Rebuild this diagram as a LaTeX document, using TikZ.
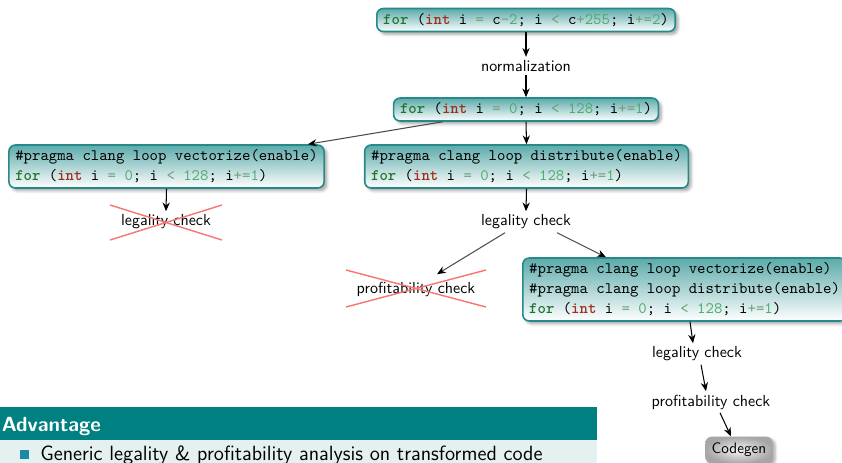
\documentclass[tikz,border=0pt]{standalone}
\usetikzlibrary{arrows.meta,calc,shadows,shadows.blur}

\definecolor{boxedge}{RGB}{38,138,138}
\definecolor{boxtop}{RGB}{92,170,170}
\definecolor{kwgreen}{RGB}{30,115,45}
\definecolor{typered}{RGB}{160,45,25}
\definecolor{numgreen}{RGB}{80,170,110}
\definecolor{opgreen}{RGB}{110,160,120}
\definecolor{crossred}{RGB}{245,120,120}
\definecolor{blocktitle}{RGB}{0,128,128}
\definecolor{blockbody}{RGB}{229,240,240}
\definecolor{bulletblue}{RGB}{30,136,168}

% syntax colouring for the loop headers
\newcommand\kw[1]{\textcolor{kwgreen}{\bfseries #1}}
\newcommand\ty[1]{\textcolor{typered}{\bfseries #1}}
\newcommand\nm[1]{\textcolor{numgreen}{#1}}
\newcommand\op[1]{\textcolor{opgreen}{#1}}

\tikzset{
  codebox/.style={draw=boxedge, line width=1pt, rounded corners=4pt,
    top color=boxtop, bottom color=white,
    font=\ttfamily\fontsize{10}{12.5}\selectfont, align=left,
    inner xsep=4pt, inner ysep=3pt,
    blur shadow={shadow xshift=1.8pt, shadow yshift=-1.8pt, shadow opacity=35, shadow blur steps=4}},
  steplabel/.style={font=\sffamily\fontsize{10}{12}\selectfont, inner sep=2pt},
  flow/.style={-{Stealth[length=5.5pt,width=4.5pt,color=black]}, line width=0.65pt},
  slant/.style={flow, draw=black!70},
  crossout/.style={crossred, line width=0.9pt},
  genbox/.style={rounded corners=4pt, shading=radial, inner color=gray!8, outer color=gray!70,
    font=\sffamily\fontsize{9.5}{11}\selectfont, inner xsep=4pt, inner ysep=4pt,
    blur shadow={shadow xshift=1.5pt, shadow yshift=-1.5pt, shadow opacity=35, shadow blur steps=4}},
}

\begin{document}
\begin{tikzpicture}[x=0.625pt, y=-0.625pt]
\clip (0,0) rectangle (842,462);

% loop headers
\node[codebox] (top) at (526,20)
  {\kw{for} (\ty{int} i \op{=} c\op{-}\nm{2}; i \op{<} c\op{+}\nm{255}; i\op{+=}\nm{2})};
\node[steplabel] (norm) at (526,66) {normalization};
\node[codebox] (n2) at (526,109.5)
  {\kw{for} (\ty{int} i \op{=} \nm{0}; i \op{<} \nm{128}; i\op{+=}\nm{1})};

\node[codebox] (vec) at (166.5,166.5)
  {\#pragma clang loop vectorize(enable)\\
   \kw{for} (\ty{int} i \op{=} \nm{0}; i \op{<} \nm{128}; i\op{+=}\nm{1})};
\node[codebox] (dist) at (526.5,166.5)
  {\#pragma clang loop distribute(enable)\\
   \kw{for} (\ty{int} i \op{=} \nm{0}; i \op{<} \nm{128}; i\op{+=}\nm{1})};

\node[steplabel] (leg1) at (166,222) {legality check};
\node[steplabel] (leg2) at (526,222) {legality check};
\node[steplabel] (prof1) at (416,289) {profitability check};

\node[codebox, anchor=west] (both) at (522,289.5)
  {\#pragma clang loop vectorize(enable)\\
   \#pragma clang loop distribute(enable)\\
   \kw{for} (\ty{int} i \op{=} \nm{0}; i \op{<} \nm{128}; i\op{+=}\nm{1})};

\node[steplabel] (leg3) at (697,354) {legality check};
\node[steplabel] (prof3) at (711,402) {profitability check};
\node[genbox] (gen) at (739,450) {Codegen};

% rejected steps
\draw[crossout] ($(leg1.center)+(-56,-17)$) -- ($(leg1.center)+(56,18)$);
\draw[crossout] ($(leg1.center)+(-56,18)$) -- ($(leg1.center)+(56,-17)$);
\draw[crossout] ($(prof1.center)+(-70,-19)$) -- ($(prof1.center)+(70,18)$);
\draw[crossout] ($(prof1.center)+(-70,18)$) -- ($(prof1.center)+(70,-19)$);

% flow
\draw[flow] (top.south) -- (norm.north);
\draw[flow] (norm.south) -- (n2.north);
\draw[slant] ($(n2.south west)+(50,0)$) -- ($(vec.north east)+(-17,0)$);
\draw[flow] (n2.south) -- (dist.north);
\draw[flow] (vec.south) -- (leg1.north);
\draw[flow] (dist.south) -- (leg2.north);
\draw[slant] ($(leg2.south)+(-21,0)$) -- ($(prof1.north)+(21,-4)$);
\draw[slant] ($(leg2.south)+(31,0)$) -- ($(both.north west)+(84,0)$);
\draw[flow] ($(both.south west)+(168,0)$) -- ($(leg3.north)+(-4,0)$);
\draw[flow] ($(leg3.south)+(4,0)$) -- ($(prof3.north)+(-5,0)$);
\draw[flow] ($(prof3.south)+(9,0)$) -- ($(gen.north)+(-8,0)$);

% summary block
\fill[blocktitle] (0,407) rectangle (597,440);
\fill[blockbody] (0,440) rectangle (597,470);
\node[anchor=base west, inner sep=0pt, text=white, font=\sffamily\bfseries\fontsize{12.8}{15}\selectfont]
  (advtitle) at (1.5,431) {Advantage};
\fill[bulletblue] (19.5,450) rectangle (29,459);
\node[anchor=base west, inner sep=0pt, font=\sffamily\fontsize{12.9}{16}\selectfont]
  (advtext) at (40,460.5) {Generic legality \& profitability analysis on transformed code};
\end{tikzpicture}
\end{document}
